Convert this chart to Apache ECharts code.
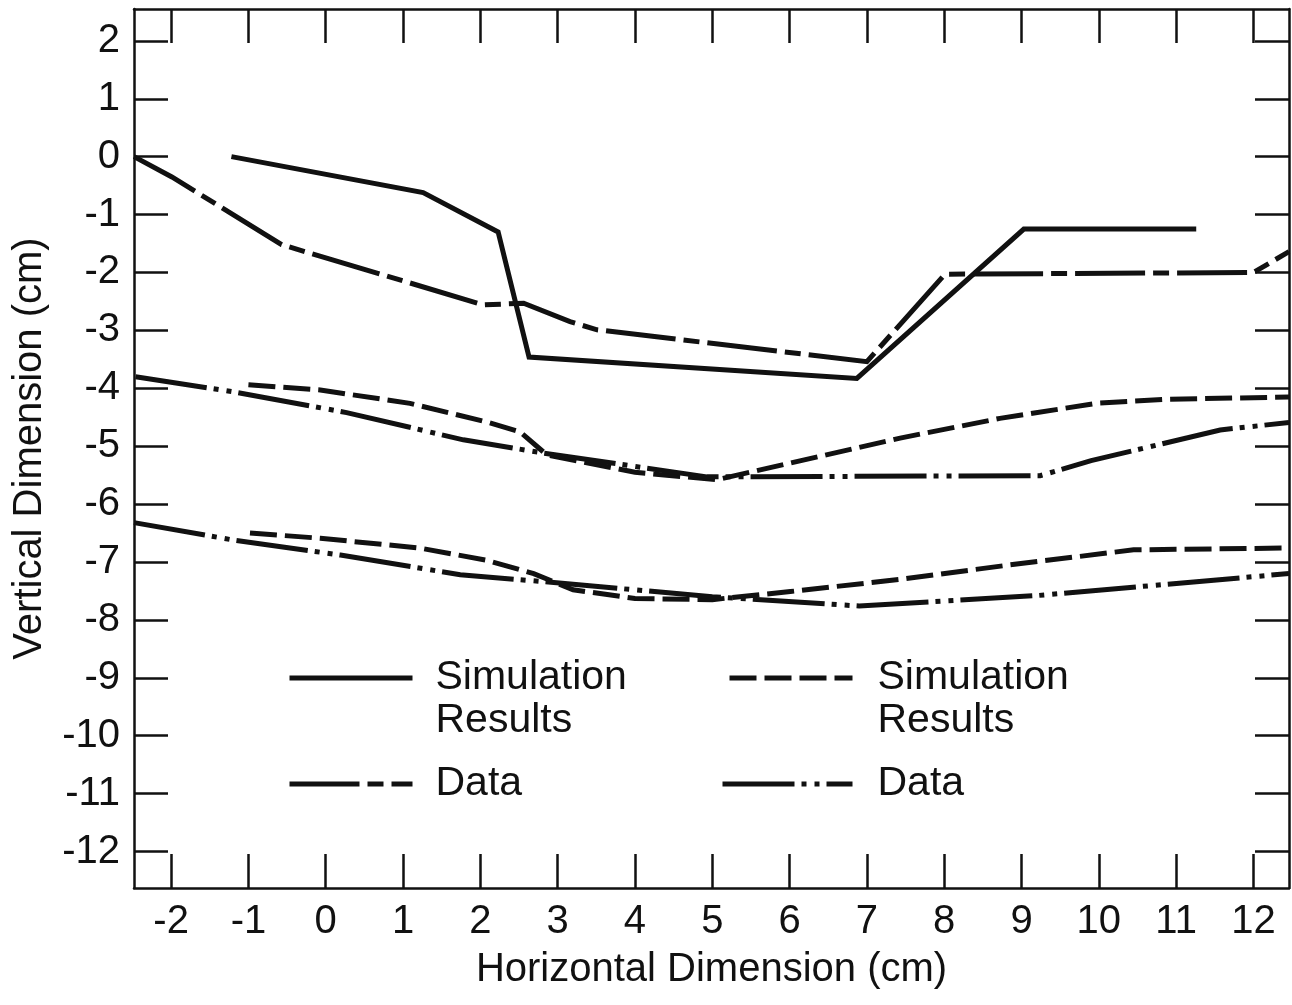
<!DOCTYPE html>
<html>
<head>
<meta charset="utf-8">
<script src="https://cdn.jsdelivr.net/npm/echarts@6/dist/echarts.min.js"></script>
<style>
  html, body { margin: 0; padding: 0; background: #fff; }
  #main { width: 1292px; height: 1005px; }
</style>
</head>
<body>
<div id="main"></div>
<script>
// tick labels
var xTicks = [-2, -1, 0, 1, 2, 3, 4, 5, 6, 7, 8, 9, 10, 11, 12];
var yTicks = [2, 1, 0, -1, -2, -3, -4, -5, -6, -7, -8, -9, -10, -11, -12];

// upper pair: simulation (solid) and data (long-short dash)
var simUpperX = [-1.22, 1.26, 2.23, 2.63, 6.87, 9.03, 11.26];
var simUpperY = [0, -0.62, -1.30, -3.46, -3.83, -1.25, -1.25];
var dataUpperX = [-2.48, -1.99, -0.57, 2.04, 2.56, 3.16, 3.51, 7.0, 8.01, 12.0, 12.46];
var dataUpperY = [0, -0.35, -1.52, -2.56, -2.53, -2.85, -2.99, -3.54, -2.03, -2.0, -1.64];

// middle pair: simulation (dashed) and data (dash-dot-dot)
var simMidX = [-1.0, -0.07, 1.09, 2.08, 2.51, 2.86, 4.0, 5.06, 7.43, 8.72, 9.97, 10.88, 12.46];
var simMidY = [-3.94, -4.03, -4.26, -4.58, -4.75, -5.15, -5.45, -5.58, -4.86, -4.52, -4.26, -4.19, -4.15];
var dataMidX = [-2.46, -1.2, 0.27, 1.78, 2.82, 4.93, 9.24, 9.9, 11.57, 12.46];
var dataMidY = [-3.80, -4.06, -4.42, -4.89, -5.12, -5.53, -5.51, -5.25, -4.72, -4.59];

// lower pair: simulation (dashed) and data (dash-dot-dot)
var simLowX = [-0.98, -0.07, 1.22, 2.08, 2.69, 3.2, 4.0, 5.0, 6.01, 7.43, 8.85, 10.45, 12.37];
var simLowY = [-6.5, -6.59, -6.76, -6.97, -7.2, -7.48, -7.63, -7.65, -7.51, -7.3, -7.05, -6.79, -6.76];
var dataLowX = [-2.48, -1.2, 0.19, 1.74, 2.82, 5.0, 6.9, 9.2, 12.46];
var dataLowY = [-6.32, -6.62, -6.88, -7.22, -7.34, -7.6, -7.76, -7.58, -7.2];

function pairs(xs, ys) {
  return xs.map(function (x, i) { return [x, ys[i]]; });
}

var FONT = 'Liberation Sans, Arial, Helvetica, sans-serif';
var INK = '#111';
var LW = 5;

var styles = {
  'Simulation Results A': { type: 'solid' },
  'Data A': { type: [70, 8, 16, 8] },
  'Simulation Results B': { type: [27, 8] },
  'Data B': { type: [72, 7, 5, 8, 5, 7] }
};

function line(name, xs, ys) {
  return {
    name: name,
    type: 'line',
    symbol: 'none',
    silent: true,
    data: pairs(xs, ys),
    itemStyle: { color: INK },
    lineStyle: { color: INK, width: LW, type: styles[name].type, cap: 'butt', join: 'miter' }
  };
}

// leading blank line keeps the first text line level with the icon
function legendLabel(name) {
  return name.indexOf('Simulation') === 0 ? '\nSimulation\nResults' : 'Data';
}

function legend(name, left, top, width, padLeft) {
  return {
    data: [name],
    left: left,
    top: top,
    padding: 0,
    itemWidth: width,
    itemHeight: 14,
    selectedMode: false,
    formatter: legendLabel,
    itemStyle: { opacity: 0 },
    lineStyle: { width: LW },
    textStyle: {
      fontFamily: FONT, fontSize: 41, color: INK, lineHeight: 43,
      padding: [0, 0, 0, padLeft]
    }
  };
}

var chart = echarts.init(document.getElementById('main'));

var axisText = { fontFamily: FONT, fontSize: 40, color: INK };
var frameLine = { show: true, onZero: false, lineStyle: { color: INK, width: 2.5 } };
var tickIn = { show: true, inside: true, length: 34, lineStyle: { color: INK, width: 2.5 } };

var option = {
  backgroundColor: '#fff',
  animation: false,
  grid: { left: 134, right: 3, top: 9, bottom: 117, containLabel: false, outerBoundsMode: 'none' },
  legend: [
    legend('Simulation Results A', 287, 678 - 64.5, 123, 18),
    legend('Data A', 287, 784 - 21.5, 123, 18),
    legend('Simulation Results B', 727, 678 - 64.5, 123, 20),
    legend('Data B', 720, 784 - 21.5, 130, 20)
  ],
  xAxis: [{
    type: 'value',
    min: -2.48,
    max: 12.46,
    name: 'Horizontal Dimension (cm)',
    nameLocation: 'middle',
    nameGap: 62,
    nameMoveOverlap: false,
    nameTextStyle: axisText,
    axisLine: frameLine,
    axisTick: Object.assign({ customValues: xTicks }, tickIn),
    axisLabel: Object.assign({ customValues: xTicks, margin: 14 }, axisText),
    splitLine: { show: false }
  }, {
    type: 'value',
    position: 'top',
    min: -2.48,
    max: 12.46,
    axisLine: frameLine,
    axisTick: Object.assign({ customValues: xTicks }, tickIn),
    axisLabel: { show: false },
    splitLine: { show: false }
  }],
  yAxis: [{
    type: 'value',
    min: -12.63,
    max: 2.55,
    name: 'Vertical Dimension (cm)',
    nameLocation: 'middle',
    nameGap: 84,
    nameMoveOverlap: false,
    nameTextStyle: axisText,
    axisLine: frameLine,
    axisTick: Object.assign({ customValues: yTicks }, tickIn),
    axisLabel: Object.assign({ customValues: yTicks, margin: 14 }, axisText),
    splitLine: { show: false }
  }, {
    type: 'value',
    position: 'right',
    min: -12.63,
    max: 2.55,
    axisLine: frameLine,
    axisTick: Object.assign({ customValues: yTicks }, tickIn),
    axisLabel: { show: false },
    splitLine: { show: false }
  }],
  series: [
    line('Simulation Results A', simUpperX, simUpperY),
    line('Data A', dataUpperX, dataUpperY),
    line('Simulation Results B', simMidX, simMidY),
    line('Data B', dataMidX, dataMidY),
    line('Simulation Results B', simLowX, simLowY),
    line('Data B', dataLowX, dataLowY)
  ]
};

chart.setOption(option);
</script>
</body>
</html>
